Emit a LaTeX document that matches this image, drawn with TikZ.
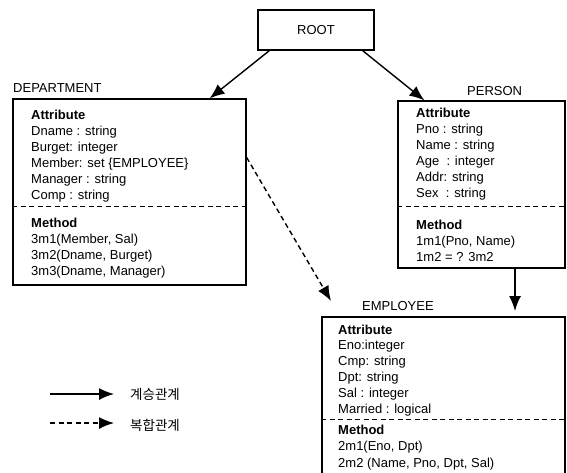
\documentclass[tikz,border=0pt]{standalone}
\usepackage{fontspec}
\setmainfont{Liberation Sans}
\newfontfamily\kofont{Noto Sans CJK KR}
\usetikzlibrary{arrows.meta, positioning}

\tikzset{
  classbox/.style={draw, line width=1.2pt, inner sep=0pt},
  fld/.style={anchor=base west, inner sep=0pt, font=\fontsize{13}{16}\selectfont},
  ttl/.style={fld, font=\fontsize{13}{16}\selectfont\bfseries},
  legendtxt/.style={anchor=west, inner sep=0pt, font=\kofont\fontsize{13.5}{15}\selectfont},
  rel/.style={line width=1.4pt, -{Latex[length=15pt,width=12pt]}},
  sep/.style={dash pattern=on 5pt off 3.5pt, line width=1.2pt}
}

\begin{document}
\begin{tikzpicture}[x=1pt,y=-1pt]
    \clip (0,0) rectangle (567,472);

    % classes
    \node(root)[classbox, minimum width=116pt, minimum height=40pt,
      font=\fontsize{13}{16}\selectfont] at (316,30){ROOT};
    \node(dept)[classbox, minimum width=233pt, minimum height=186pt] at (129.5,192){};
    \node(person)[classbox, minimum width=167pt, minimum height=167pt] at (481.5,184.5){};
    \node(emp)[classbox, minimum width=243pt, minimum height=180pt] at (443.5,407){};

    \node(dept_lbl)[fld] at (13,92){DEPARTMENT};
    \node(person_lbl)[fld] at (467,95){PERSON};
    \node(emp_lbl)[fld] at (362,310){EMPLOYEE};

    \draw[sep] ([yshift=-108pt]dept.north west) -- ([yshift=-108pt]dept.north east);
    \draw[sep] ([yshift=-106pt]person.north west) -- ([yshift=-106pt]person.north east);
    \draw[sep] ([yshift=-103pt]emp.north west) -- ([yshift=-103pt]emp.north east);

    % DEPARTMENT
    \node(dept_attr)[ttl] at (31,119){Attribute};
    \foreach \txt [count=\i] in {Dname : string, Burget: integer,
      Member: set \{EMPLOYEE\}, Manager : string, Comp : string}
      \node(dept_a\i)[fld] at (31,119+16*\i){\txt};
    \node(dept_meth)[ttl] at (31,227){Method};
    \foreach \txt [count=\i] in {{3m1(Member, Sal)}, {3m2(Dname, Burget)},
      {3m3(Dname, Manager)}}
      \node(dept_m\i)[fld] at (31,227+16*\i){\txt};

    % PERSON
    \node(person_attr)[ttl] at (416,117){Attribute};
    \foreach \txt [count=\i] in {Pno : string, Name : string, Age~ : integer,
      Addr: string, Sex~ : string}
      \node(person_a\i)[fld] at (416,117+16*\i){\txt};
    \node(person_meth)[ttl] at (416,229){Method};
    \foreach \txt [count=\i] in {{1m1(Pno, Name)}, 1m2 = ? 3m2}
      \node(person_m\i)[fld] at (416,229+16*\i){\txt};

    % EMPLOYEE
    \node(emp_attr)[ttl] at (338,334){Attribute};
    \foreach \txt [count=\i] in {Eno:integer, Cmp: string, Dpt: string,
      Sal : integer, Married : logical}
      \node(emp_a\i)[fld] at (338,334+15.8*\i){\txt};
    \node(emp_meth)[ttl] at (338,434){Method};
    \foreach \txt [count=\i] in {{2m1(Eno, Dpt)}, {2m2 (Name, Pno, Dpt, Sal)}}
      \node(emp_m\i)[fld] at (338,434+16.5*\i){\txt};

    % relations
    \coordinate(emp_in) at (515,311);
    \coordinate(emp_part) at (331,301);
    \draw[rel] ([xshift=12pt]root.south west) -- ([xshift=-37pt]dept.north east);
    \draw[rel] ([xshift=-12pt]root.south east) -- ([xshift=27pt]person.north west);
    \draw[rel] ([xshift=33.5pt]person.south) -- (emp_in);
    \draw[rel, dash pattern=on 5pt off 3.5pt] ([yshift=-59pt]dept.north east) -- (emp_part);

    % legend
    \coordinate(lg_s1) at (50,394);
    \coordinate(lg_e1) at (114,394);
    \coordinate(lg_s2) at (50,423);
    \coordinate(lg_e2) at (114,423);
    \draw[rel] (lg_s1) -- (lg_e1);
    \draw[rel, dash pattern=on 5pt off 3.5pt] (lg_s2) -- (lg_e2);
    \node(lg_inh)[legendtxt] at (130,394){계승관계};
    \node(lg_comp)[legendtxt] at (130,425){복합관계};
\end{tikzpicture}
\end{document}
